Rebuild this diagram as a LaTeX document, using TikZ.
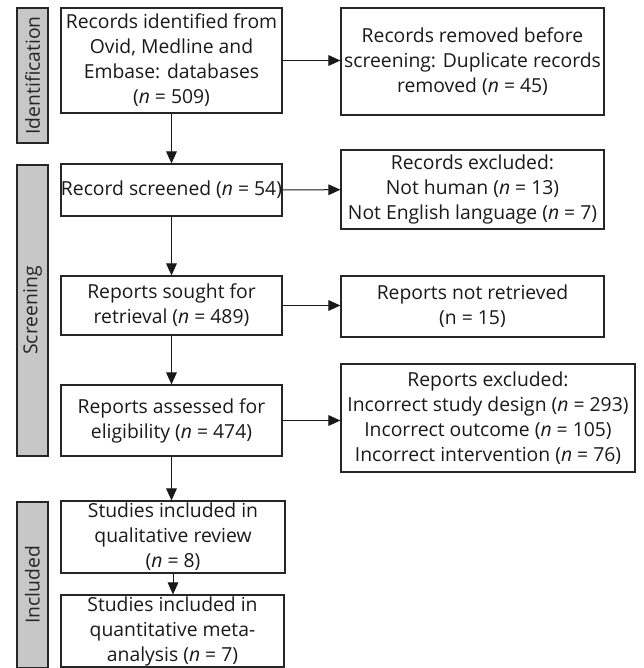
\documentclass[tikz,border=0pt]{standalone}
\usepackage{fontspec}
\setmainfont{Open Sans}
\usetikzlibrary{arrows.meta}

\begin{document}
\begin{tikzpicture}[x=0.75pt, y=-0.75pt,
    size/.style 2 args={minimum width=#1*0.75pt, minimum height=#2*0.75pt},
    box/.style={draw=black!85, line width=0.9pt, align=center, inner sep=0pt,
        text=black!90, font=\fontsize{14.5}{18.75}\selectfont},
    phase/.style={draw=black!85, line width=0.9pt, fill=black!22, inner sep=0pt,
        rotate=90, text=black!85, font=\fontsize{14.5}{18.75}\selectfont},
    arr/.style={-{Triangle[length=9pt, width=8pt]}, line width=0.75pt, draw=black!90}]
    \useasboundingbox (0,0) rectangle (643,668);

    % Phasen links
    \node[phase, size={135}{31}] (pid) at (32.5,75.5) {Identification};
    \node[phase, size={291}{31}] (pscr) at (32.5,310.5) {Screening};
    \node[phase, size={166}{31}] (pinc) at (32.5,585) {Included};

    % Hauptspalte
    \node[box, size={221}{105}] (ident) at (171.5,60.5)
        {Records identified from\\Ovid, Medline and\\Embase: databases\\(\textit{n} = 509)};
    \node[box, size={221}{52}] (screened) at (171.5,190)
        {Record screened (\textit{n} = 54)};
    \node[box, size={221}{59}] (sought) at (171.5,305.5)
        {Reports sought for\\retrieval (\textit{n} = 489)};
    \node[box, size={221}{71}] (assessed) at (171.5,420.5)
        {Reports assessed for\\eligibility (\textit{n} = 474)};
    \node[box, size={224}{72}] (qual) at (173,537)
        {Studies included in\\qualitative review\\(\textit{n} = 8)};
    \node[box, size={223}{72}] (quant) at (172.5,631)
        {Studies included in\\quantitative meta-\\analysis (\textit{n} = 7)};

    % Ausschluesse rechts
    \node[box, size={263}{107}] (removed) at (472.5,61.5)
        {Records removed before\\screening: Duplicate records\\removed (\textit{n} = 45)};
    \node[box, size={263}{79}] (excl1) at (472.5,189.5)
        {Records excluded:\\Not human (\textit{n} = 13)\\Not English language (\textit{n} = 7)};
    \node[box, size={263}{61}] (notret) at (472.5,306.5)
        {Reports not retrieved\\(n = 15)};
    \node[box, size={294}{108}] (excl2) at (488,418)
        {Reports excluded:\\Incorrect study design (\textit{n} = 293)\\Incorrect outcome (\textit{n} = 105)\\Incorrect intervention (\textit{n} = 76)};

    % Pfeile
    \draw[arr] (ident) -- (screened);
    \draw[arr] (screened) -- (sought);
    \draw[arr] (sought) -- (assessed);
    \draw[arr] (assessed.south) -- (assessed.south |- qual.north);
    \draw[arr] (qual.south) -- (qual.south |- quant.north);

    \draw[arr] (ident.east) -- (ident.east -| removed.west);
    \draw[arr] (screened) -- (excl1);
    \draw[arr] (sought.east) -- (sought.east -| notret.west);
    \draw[arr] (assessed.east) -- (assessed.east -| excl2.west);
\end{tikzpicture}
\end{document}
